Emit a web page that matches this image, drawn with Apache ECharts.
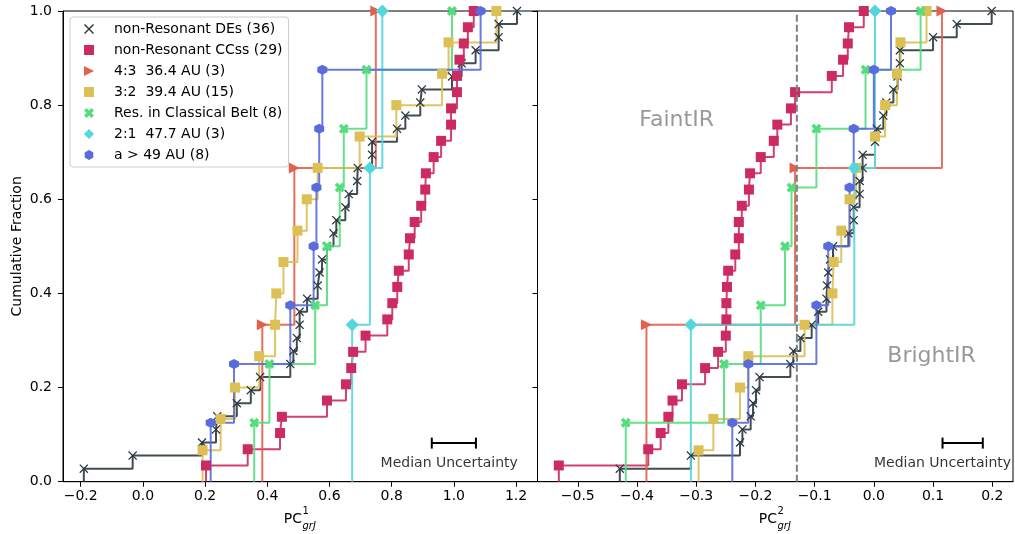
<!DOCTYPE html>
<html>
<head>
<meta charset="utf-8">
<title>Cumulative fraction of PC1 / PC2</title>
<script src="https://cdn.jsdelivr.net/npm/echarts@6/dist/echarts.min.js"></script>
<style>
  html, body { margin: 0; padding: 0; background: #fff; }
  #chart { width: 1015px; height: 534px; }
</style>
</head>
<body>
<div id="chart"></div>
<script>
// groups, in plotting / legend order
const groupNames = [
  'non-Resonant DEs (36)',
  'non-Resonant CCss (29)',
  '4:3  36.4 AU (3)',
  '3:2  39.4 AU (15)',
  'Res. in Classical Belt (8)',
  '2:1  47.7 AU (3)',
  'a > 49 AU (8)',
]

// PC1 values, sorted
const pc1NonResDE = [-0.19, -0.033, 0.19, 0.235, 0.239, 0.302, 0.347, 0.377, 0.474, 0.484, 0.495, 0.504,
  0.504, 0.528, 0.562, 0.568, 0.576, 0.592, 0.613, 0.622, 0.651, 0.662, 0.689, 0.691, 0.737, 0.737,
  0.817, 0.844, 0.892, 0.897, 0.994, 1.025, 1.07, 1.144, 1.144, 1.203]
const pc1NonResCC = [0.203, 0.337, 0.441, 0.447, 0.592, 0.653, 0.67, 0.676, 0.716, 0.786, 0.802, 0.818,
  0.823, 0.855, 0.859, 0.874, 0.895, 0.908, 0.91, 0.935, 0.959, 0.991, 0.991, 1.01, 1.01, 1.018, 1.032,
  1.045, 1.064]
const pc1Res43 = [0.384, 0.487, 0.749]
const pc1Res32 = [0.192, 0.25, 0.296, 0.374, 0.425, 0.429, 0.452, 0.497, 0.527, 0.562, 0.697, 0.815,
  0.962, 0.983, 1.137]
const pc1ResClassical = [0.358, 0.407, 0.554, 0.592, 0.633, 0.646, 0.719, 0.994]
const pc1Res21 = [0.673, 0.73, 0.77]
const pc1Far = [0.218, 0.293, 0.474, 0.549, 0.558, 0.567, 0.577, 1.086]

// PC2 values, sorted
const pc2NonResDE = [-0.429, -0.309, -0.226, -0.222, -0.208, -0.204, -0.199, -0.193, -0.141, -0.136,
  -0.124, -0.105, -0.094, -0.08, -0.079, -0.077, -0.074, -0.069, -0.043, -0.034, -0.034, -0.024, -0.024,
  -0.019, -0.019, 0.002, 0.005, 0.016, 0.021, 0.033, 0.04, 0.044, 0.044, 0.1, 0.14, 0.199]
const pc2NonResCC = [-0.532, -0.381, -0.36, -0.347, -0.34, -0.324, -0.285, -0.263, -0.25, -0.249, -0.249,
  -0.248, -0.246, -0.234, -0.228, -0.228, -0.223, -0.211, -0.209, -0.191, -0.169, -0.163, -0.14, -0.133,
  -0.071, -0.052, -0.044, -0.042, -0.017]
const pc2Res43 = [-0.384, -0.133, 0.115]
const pc2Res32 = [-0.296, -0.271, -0.226, -0.212, -0.117, -0.07, -0.068, -0.055, -0.041, -0.03, 0.002,
  0.019, 0.039, 0.045, 0.089]
const pc2ResClassical = [-0.419, -0.253, -0.191, -0.15, -0.139, -0.097, -0.014, 0.079]
const pc2Res21 = [-0.309, -0.033, 0.002]
const pc2Far = [-0.239, -0.212, -0.097, -0.077, -0.041, -0.034, 0.0, 0.029]

const xTicksPC1 = [-0.2, 0, 0.2, 0.4, 0.6, 0.8, 1.0, 1.2]
const xTicksPC2 = [-0.5, -0.4, -0.3, -0.2, -0.1, 0, 0.1, 0.2]
const faintBrightCut = -0.13
const medianUncPC1 = [1.0, 0.071]   // centre, half width
const medianUncPC2 = [0.15, 0.034]

const pc1Groups = [pc1NonResDE, pc1NonResCC, pc1Res43, pc1Res32, pc1ResClassical, pc1Res21, pc1Far]
const pc2Groups = [pc2NonResDE, pc2NonResCC, pc2Res43, pc2Res32, pc2ResClassical, pc2Res21, pc2Far]

const FONT = 'DejaVu Sans'
const colors = ['#2c3a40', '#cc2b62', '#e2604e', '#dcbf55', '#55dd7d', '#54d6de', '#5a6cdc']
const thinX = 'path://M1,0 L5,4 L9,0 L10,1 L6,5 L10,9 L9,10 L5,6 L1,10 L0,9 L4,5 L0,1 Z'
const fatX = 'path://M2.5,0 L5,2.5 L7.5,0 L10,2.5 L7.5,5 L10,7.5 L7.5,10 L5,7.5 L2.5,10 L0,7.5 L2.5,5 L0,2.5 Z'
const triRight = 'path://M0,0 L10,5 L0,10 Z'
const hexagon = 'path://M5,0 L9.33,2.5 L9.33,7.5 L5,10 L0.67,7.5 L0.67,2.5 Z'
const symbols = [thinX, 'rect', triRight, 'rect', fatX, 'diamond', hexagon]
const symbolSizes = [9, 10, 11, 10, 10, 13, 10]

const fmtTick = v => (v < 0 ? '\u2212' + (-v).toFixed(1) : v.toFixed(1))

// empirical cdf: start at 0, then step up by 1/n at each sorted value
const cdf = values => {
  const n = values.length
  const pts = [{value: [values[0], 0], symbol: 'none'}]
  values.forEach((v, i) => pts.push([v, (i + 1) / n]))
  return pts
}

const cdfSeries = (groups, axis) => groups.map((vals, i) => ({
  name: groupNames[i],
  type: 'line',
  xAxisIndex: axis,
  yAxisIndex: axis,
  data: cdf(vals),
  step: 'end',
  symbol: symbols[i],
  symbolSize: symbolSizes[i],
  showAllSymbol: true,
  lineStyle: {width: 2, color: colors[i], opacity: 0.9},
  itemStyle: {color: colors[i]},
  z: 3,
}))

const textSeries = (axis, x, y, text, size, color) => ({
  type: 'scatter',
  xAxisIndex: axis,
  yAxisIndex: axis,
  data: [[x, y]],
  symbolSize: 0,
  silent: true,
  z: 6,
  label: {show: true, position: 'inside', formatter: text, fontSize: size, fontFamily: FONT, color},
})

const errorBar = (axis, unc, y) => ({
  type: 'line',
  xAxisIndex: axis,
  yAxisIndex: axis,
  data: [[unc[0] - unc[1], y], [unc[0] + unc[1], y]],
  symbol: 'rect',
  symbolSize: [2, 11],
  lineStyle: {color: '#000', width: 2},
  itemStyle: {color: '#000'},
  silent: true,
  z: 6,
})

const xAxisCfg = (idx, min, max, ticks) => ({
  type: 'value',
  gridIndex: idx,
  min,
  max,
  axisLine: {onZero: false, lineStyle: {color: '#000', width: 1}},
  axisTick: {show: true, inside: false, length: 5, customValues: ticks, lineStyle: {color: '#000'}},
  axisLabel: {customValues: ticks, formatter: fmtTick, fontSize: 14, fontFamily: FONT, color: '#000', margin: 8},
  splitLine: {show: false},
})

const yAxisCfg = (idx, labels) => ({
  type: 'value',
  gridIndex: idx,
  min: 0,
  max: 1,
  interval: 0.2,
  name: labels ? 'Cumulative Fraction' : '',
  nameLocation: 'middle',
  nameGap: 39,
  nameTextStyle: {fontSize: 14, fontFamily: FONT, color: '#000'},
  axisLine: {show: true, onZero: false, lineStyle: {color: '#000', width: 1}},
  axisTick: {show: true, inside: false, length: 5, lineStyle: {color: '#000'}},
  axisLabel: {show: labels, formatter: v => v.toFixed(1), fontSize: 14, fontFamily: FONT, color: '#000', margin: 11},
  splitLine: {show: false},
})

const axisTitle = (cx, sup) => [
  {type: 'text', x: cx + 2, y: 519, style: {text: 'PC', fontSize: 14, fontFamily: FONT, fill: '#000', align: 'right', verticalAlign: 'middle'}},
  {type: 'text', x: cx + 2.5, y: 511, style: {text: sup, fontSize: 10, fontFamily: FONT, fill: '#000', align: 'left', verticalAlign: 'middle'}},
  {type: 'text', x: cx + 2.5, y: 526, style: {text: 'grJ', fontSize: 10, fontStyle: 'italic', fontFamily: FONT, fill: '#000', align: 'left', verticalAlign: 'middle'}},
]

const option = {
  animation: false,
  backgroundColor: '#fff',
  textStyle: {fontFamily: FONT},
  grid: [
    {left: 63, top: 11, width: 474.5, height: 470.7, show: true, borderColor: '#000', borderWidth: 1, backgroundColor: 'transparent'},
    {left: 537.5, top: 11, width: 475.5, height: 470.7, show: true, borderColor: '#000', borderWidth: 1, backgroundColor: 'transparent'},
  ],
  xAxis: [
    xAxisCfg(0, -0.257, 1.269, xTicksPC1),
    xAxisCfg(1, -0.568, 0.235, xTicksPC2),
  ],
  yAxis: [yAxisCfg(0, true), yAxisCfg(1, false)],
  legend: {
    orient: 'vertical',
    left: 70,
    top: 17,
    data: groupNames.map((name, i) => ({name, icon: symbols[i]})),
    itemWidth: 10,
    itemHeight: 10,
    itemGap: 7,
    padding: [5, 6, 5, 14],
    borderColor: '#cccccc',
    borderWidth: 1,
    borderRadius: 3,
    backgroundColor: 'rgba(255,255,255,0.8)',
    textStyle: {fontSize: 14, fontFamily: FONT, color: '#000', lineHeight: 14, padding: [0, 0, 0, 15]},
    selectedMode: false,
    z: 10,
  },
  graphic: [...axisTitle(300, '1'), ...axisTitle(775, '2')],
  series: [
    ...cdfSeries(pc1Groups, 0),
    ...cdfSeries(pc2Groups, 1),
    {
      type: 'line',
      xAxisIndex: 1,
      yAxisIndex: 1,
      data: [[faintBrightCut, 0], [faintBrightCut, 1]],
      symbol: 'none',
      lineStyle: {color: '#808080', width: 2, type: [7, 3]},
      silent: true,
      z: 5,
    },
    errorBar(0, medianUncPC1, 0.082),
    errorBar(1, medianUncPC2, 0.082),
    textSeries(0, 0.985, 0.04, 'Median Uncertainty', 14, '#000'),
    textSeries(1, 0.116, 0.04, 'Median Uncertainty', 14, '#000'),
    textSeries(1, -0.333, 0.768, 'FaintIR', 22, '#808080'),
    textSeries(1, 0.0975, 0.266, 'BrightIR', 22, '#808080'),
  ],
}

const chart = echarts.init(document.getElementById('chart'))
chart.setOption(option)
</script>
</body>
</html>
